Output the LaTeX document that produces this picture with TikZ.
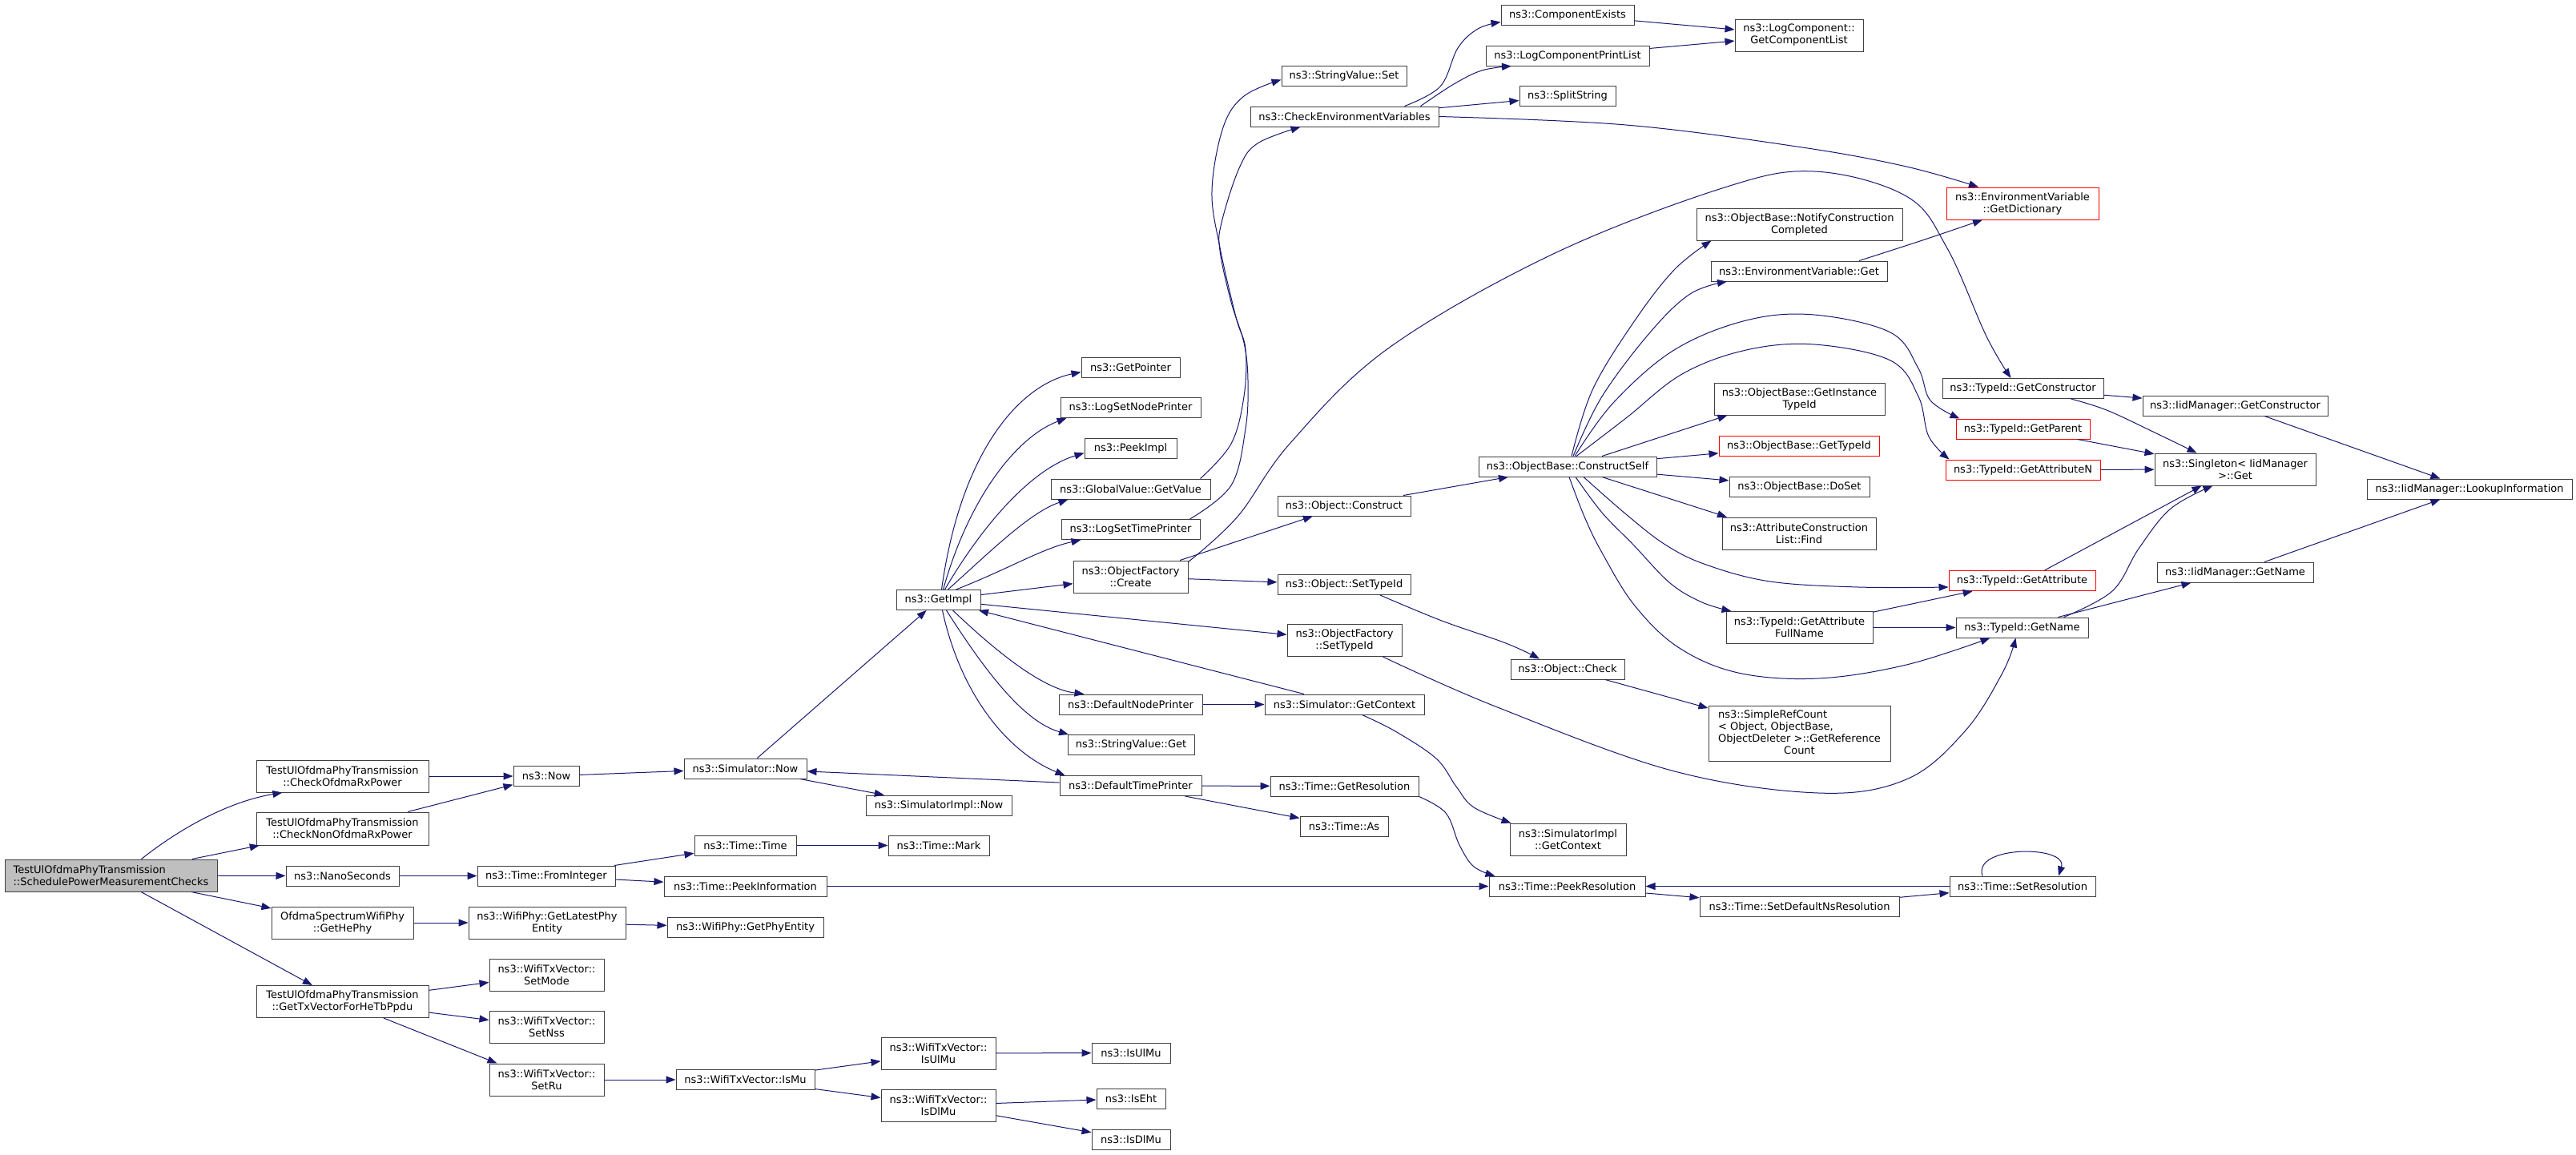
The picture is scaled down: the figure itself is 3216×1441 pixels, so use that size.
\documentclass[tikz,border=0pt]{standalone}
\usepackage{fontspec}
\setmainfont{DejaVu Sans}
\usetikzlibrary{arrows.meta}
\definecolor{edgecol}{RGB}{25,25,112}
\definecolor{mainfill}{RGB}{191,191,191}
\definecolor{boxline}{RGB}{64,64,64}
\tikzset{
  fn/.style={draw=boxline, fill=white, line width=1pt, inner sep=0pt, align=center,
     font=\fontsize{13}{15}\selectfont},
  fnred/.style={fn, draw=red},
  fnmain/.style={fn, fill=mainfill, align=left},
  edge/.style={draw=edgecol, line width=1pt, -{Triangle[length=12pt,width=9pt]}},
  sm/.style={smooth, tension=0.6},
}
\newcommand{\bx}[6]{\node[#1, minimum width=#4pt, minimum height=#5pt] (#2) at (#3) {#6};}
\begin{document}
\begin{tikzpicture}[x=1pt,y=-1pt]
\useasboundingbox[fill=white] (0,0) rectangle (3216,1441);
% ---- column 1
\bx{fnmain}{main}{138.5,1093}{265}{40}{TestUlOfdmaPhyTransmission\\::SchedulePowerMeasurementChecks}
% ---- column 2
\bx{fn}{cofdma}{427.5,969}{215}{40}{TestUlOfdmaPhyTransmission\\::CheckOfdmaRxPower}
\bx{fn}{cnon}{427.5,1034.5}{215}{41}{TestUlOfdmaPhyTransmission\\::CheckNonOfdmaRxPower}
\bx{fn}{nano}{427.5,1093.5}{141}{25}{ns3::NanoSeconds}
\bx{fn}{gethephy}{427.5,1152}{177}{40}{OfdmaSpectrumWifiPhy\\::GetHePhy}
\bx{fn}{gettx}{427.5,1250.5}{215}{40}{TestUlOfdmaPhyTransmission\\::GetTxVectorForHeTbPpdu}
% ---- column 3
\bx{fn}{now}{682,969}{82}{25}{ns3::Now}
\bx{fn}{frominteger}{682,1093.5}{172}{25}{ns3::Time::FromInteger}
\bx{fn}{latest}{683,1152}{196}{40}{ns3::WifiPhy::GetLatestPhy\\Entity}
\bx{fn}{setmode}{682.5,1217}{143}{40}{ns3::WifiTxVector::\\SetMode}
\bx{fn}{setnss}{682.5,1282.5}{143}{40}{ns3::WifiTxVector::\\SetNss}
\bx{fn}{setru}{682.5,1348}{143}{40}{ns3::WifiTxVector::\\SetRu}
% ---- column 4
\bx{fn}{simnow}{930.5,959.5}{153}{25}{ns3::Simulator::Now}
\bx{fn}{timetime}{930.5,1055.5}{127}{25}{ns3::Time::Time}
\bx{fn}{peekinfo}{930.5,1106.5}{203}{25}{ns3::Time::PeekInformation}
\bx{fn}{getphyentity}{930.5,1157.5}{195}{25}{ns3::WifiPhy::GetPhyEntity}
\bx{fn}{ismu}{930.5,1348}{173}{25}{ns3::WifiTxVector::IsMu}
% ---- column 5
\bx{fn}{getimpl}{1171.5,749}{105}{25}{ns3::GetImpl}
\bx{fn}{simimplnow}{1172,1005.5}{182}{25}{ns3::SimulatorImpl::Now}
\bx{fn}{timemark}{1172,1055.5}{126}{25}{ns3::Time::Mark}
\bx{fn}{wisulmu}{1171.5,1315}{143}{40}{ns3::WifiTxVector::\\IsUlMu}
\bx{fn}{wisdlmu}{1171.5,1380}{143}{40}{ns3::WifiTxVector::\\IsDlMu}
% ---- column 6
\bx{fn}{getpointer}{1411.5,458.5}{123}{25}{ns3::GetPointer}
\bx{fn}{logsetnode}{1411.5,509}{175}{25}{ns3::LogSetNodePrinter}
\bx{fn}{peekimpl}{1411.5,559.5}{115}{25}{ns3::PeekImpl}
\bx{fn}{globalget}{1411.5,610.5}{199}{25}{ns3::GlobalValue::GetValue}
\bx{fn}{logsettime}{1411.5,661}{173}{25}{ns3::LogSetTimePrinter}
\bx{fn}{ofcreate}{1411.5,720}{143}{40}{ns3::ObjectFactory\\::Create}
\bx{fn}{defnode}{1411.5,879.5}{179}{25}{ns3::DefaultNodePrinter}
\bx{fn}{strget}{1412,930}{158}{25}{ns3::StringValue::Get}
\bx{fn}{deftime}{1411.5,981}{177}{25}{ns3::DefaultTimePrinter}
\bx{fn}{isulmu}{1412,1314.5}{98}{25}{ns3::IsUlMu}
\bx{fn}{iseht}{1412,1371.5}{86}{25}{ns3::IsEht}
\bx{fn}{isdlmu}{1412,1422.5}{98}{25}{ns3::IsDlMu}
% ---- column 7
\bx{fn}{strset}{1678,94.5}{156}{25}{ns3::StringValue::Set}
\bx{fn}{checkenv}{1678.5,145.5}{235}{25}{ns3::CheckEnvironmentVariables}
\bx{fn}{objconstruct}{1678,631.5}{166}{25}{ns3::Object::Construct}
\bx{fn}{objsettypeid}{1678,730}{166}{25}{ns3::Object::SetTypeId}
\bx{fn}{ofsettypeid}{1678.5,799.5}{143}{40}{ns3::ObjectFactory\\::SetTypeId}
\bx{fn}{simgetctx}{1678.5,879.5}{199}{25}{ns3::Simulator::GetContext}
\bx{fn}{timegetres}{1678.5,981.5}{185}{25}{ns3::Time::GetResolution}
\bx{fn}{timeas}{1678,1032}{110}{25}{ns3::Time::As}
% ---- column 8
\bx{fn}{compexists}{1957,18.5}{166}{25}{ns3::ComponentExists}
\bx{fn}{logcompprint}{1957,69.5}{204}{25}{ns3::LogComponentPrintList}
\bx{fn}{splitstring}{1957,120}{120}{25}{ns3::SplitString}
\bx{fn}{constructself}{1957,582.5}{222}{25}{ns3::ObjectBase::ConstructSelf}
\bx{fn}{objcheck}{1957,835.5}{142}{25}{ns3::Object::Check}
\bx{fn}{simimplctx}{1957.5,1048}{145}{40}{ns3::SimulatorImpl\\::GetContext}
\bx{fn}{peekres}{1956.5,1106.5}{195}{25}{ns3::Time::PeekResolution}
% ---- column 9
\bx{fn}{getcomplist}{2246,44}{160}{40}{ns3::LogComponent::\\GetComponentList}
\bx{fn}{notify}{2246.5,280}{257}{40}{ns3::ObjectBase::NotifyConstruction\\Completed}
\bx{fn}{envget}{2246,338.5}{220}{25}{ns3::EnvironmentVariable::Get}
\bx{fn}{instancetypeid}{2246.5,498}{213}{40}{ns3::ObjectBase::GetInstance\\TypeId}
\bx{fnred}{obgettypeid}{2246,557}{200}{25}{ns3::ObjectBase::GetTypeId}
\bx{fn}{doset}{2246.5,607.5}{175}{25}{ns3::ObjectBase::DoSet}
\bx{fn}{acfind}{2246,666}{192}{40}{ns3::AttributeConstruction\\List::Find}
\bx{fn}{getattrfull}{2246.5,783.5}{183}{40}{ns3::TypeId::GetAttribute\\FullName}
\node[fn, minimum width=227pt, minimum height=69pt] (simplerefcount) at (2246.5,915.5)
  {\begin{tabular}{@{}l@{}}ns3::SimpleRefCount\\{<} Object, ObjectBase,\\ObjectDeleter {>}::GetReference\\\multicolumn{1}{@{}c@{}}{Count}\end{tabular}};
\bx{fn}{setdefns}{2246.5,1131.5}{249}{25}{ns3::Time::SetDefaultNsResolution}
% ---- column 10
\bx{fnred}{getdict}{2525,254}{190}{40}{ns3::EnvironmentVariable\\::GetDictionary}
\bx{fn}{tgetconstructor}{2525.5,485}{201}{25}{ns3::TypeId::GetConstructor}
\bx{fnred}{tgetparent}{2525.5,535.5}{167}{25}{ns3::TypeId::GetParent}
\bx{fnred}{tgetattrn}{2525.5,586.5}{193}{25}{ns3::TypeId::GetAttributeN}
\bx{fnred}{tgetattr}{2524.5,725}{183}{25}{ns3::TypeId::GetAttribute}
\bx{fn}{tgetname}{2524.5,783.5}{165}{25}{ns3::TypeId::GetName}
\bx{fn}{setres}{2525,1106.5}{182}{25}{ns3::Time::SetResolution}
% ---- column 11
\bx{fn}{iidgetconstructor}{2790.5,506.5}{231}{25}{ns3::IidManager::GetConstructor}
\bx{fn}{singleton}{2790.5,586}{201}{40}{ns3::Singleton{<} IidManager\\{>}::Get}
\bx{fn}{iidgetname}{2790.5,714.5}{195}{25}{ns3::IidManager::GetName}
% ---- column 12
\bx{fn}{lookup}{3083,610.5}{256}{25}{ns3::IidManager::LookupInformation}

% ================= edges
\draw[edge] ([xshift=38]main.north) .. controls (230,1030) and (290,1000) .. ([xshift=-75]cofdma.south);
\draw[edge] (main) -- (cnon);
\draw[edge] (main) -- (nano);
\draw[edge] (main) -- (gethephy);
\draw[edge] (main) -- (gettx);
\draw[edge] (cofdma) -- (now);
\draw[edge] (cnon) -- (now);
\draw[edge] (now) -- (simnow);
\draw[edge] (nano) -- (frominteger);
\draw[edge] (frominteger) -- (timetime);
\draw[edge] (frominteger) -- (peekinfo);
\draw[edge] (gethephy) -- (latest);
\draw[edge] (latest) -- (getphyentity);
\draw[edge] (gettx) -- (setmode);
\draw[edge] (gettx) -- (setnss);
\draw[edge] (gettx) -- ([xshift=-62]setru.north);
\draw[edge] (setru) -- (ismu);
\draw[edge] (ismu) -- (wisulmu);
\draw[edge] (ismu) -- (wisdlmu);
\draw[edge] (wisulmu) -- (isulmu);
\draw[edge] (wisdlmu) -- (iseht);
\draw[edge] (wisdlmu) -- (isdlmu);
\draw[edge] (timetime) -- (timemark);
\draw[edge] (simnow) -- (getimpl);
\draw[edge] (simnow) -- (simimplnow);
\draw[edge] (deftime) -- (simnow);
\draw[edge] (deftime) -- (timegetres);
\draw[edge] (deftime) -- (timeas);
% GetImpl fan
\draw[edge] ([xshift=4]getimpl.north) .. controls (1200,560) and (1275,480) .. ([yshift=-6]getpointer.west);
\draw[edge] ([xshift=6]getimpl.north) .. controls (1210,620) and (1270,545) .. ([xshift=-80]logsetnode.south);
\draw[edge] ([xshift=8]getimpl.north) .. controls (1230,650) and (1290,585) .. ([yshift=-6]peekimpl.west);
\draw[edge] ([xshift=12]getimpl.north) .. controls (1235,690) and (1285,640) .. ([xshift=-78]globalget.south);
\draw[edge] ([xshift=22]getimpl.north) .. controls (1260,710) and (1300,685) .. ([xshift=-62]logsettime.south);
\draw[edge] (getimpl) -- (ofcreate);
\draw[edge] (getimpl) -- (ofsettypeid);
\draw[edge] ([xshift=18]getimpl.south) .. controls (1240,810) and (1300,860) .. ([xshift=-58]defnode.north);
\draw[edge] ([xshift=10]getimpl.south) .. controls (1225,830) and (1275,900) .. ([xshift=-78]strget.north);
\draw[edge] ([xshift=5]getimpl.south) .. controls (1200,870) and (1260,940) .. ([xshift=-82]deftime.north);
\draw[edge] (simgetctx) -- (getimpl);
\draw[edge] (defnode) -- (simgetctx);
% long curves to the top
\draw[edge] plot[sm] coordinates {([xshift=-13]globalget.north east) (1537,554) (1553,495) (1555,436) (1543,396) (1523,309) (1513,238) (1527,159) (1553,120) ([yshift=-5]strset.west)};
\draw[edge] plot[sm] coordinates {([xshift=-13]logsettime.north east) (1537,606) (1555,535) (1558,475) (1553,428) (1537,377) (1523,313) (1525,278) (1547,210) (1570,179) ([xshift=-55]checkenv.south)};
\draw[edge] plot[sm] coordinates {([xshift=75]checkenv.north) (1798,108) (1820,60) (1845,36) ([yshift=4]compexists.south west)};
\draw[edge] plot[sm] coordinates {([xshift=95]checkenv.north) (1815,105) (1850,88) ([xshift=-70]logcompprint.south)};
\draw[edge] (checkenv) -- (splitstring);
\draw[edge] plot[sm] coordinates {(checkenv.east) (2030,156) (2250,184) (2380,208) ([xshift=-55]getdict.north)};
\draw[edge] (compexists) -- (getcomplist);
\draw[edge] (logcompprint) -- (getcomplist);
% ObjectFactory::Create
\draw[edge] (ofcreate) -- (objconstruct);
\draw[edge] (ofcreate) -- (objsettypeid);
\draw[edge] plot[sm] coordinates {([yshift=-2]ofcreate.north east) (1545,645) (1611,553) (1733,435) (1937,318) (2150,235) (2265,214) (2380,245) (2431,310) (2480,420) ([xshift=-15]tgetconstructor.north)};
\draw[edge] (objconstruct) -- (constructself);
% ConstructSelf fan
\draw[edge] plot[sm] coordinates {([xshift=5]constructself.north) (1988,487) (2039,403) (2090,337) ([xshift=-110]notify.south)};
\draw[edge] plot[sm] coordinates {([xshift=7]constructself.north) (2000,495) (2060,415) (2110,367) ([xshift=-90]envget.south)};
\draw[edge] plot[sm] coordinates {([xshift=9]constructself.north) (2014,503) (2090,437) (2180,400) (2265,393) (2360,415) (2395,460) (2410,500) ([xshift=5]tgetparent.north west)};
\draw[edge] plot[sm] coordinates {([xshift=11]constructself.north) (2030,522) (2100,467) (2180,437) (2265,430) (2360,450) (2395,495) (2408,545) ([xshift=5]tgetattrn.north west)};
\draw[edge] ([xshift=43]constructself.north) -- ([xshift=-90]instancetypeid.south);
\draw[edge] (constructself) -- (obgettypeid);
\draw[edge] (constructself) -- (doset);
\draw[edge] ([xshift=43]constructself.south) -- ([xshift=-90]acfind.north);
\draw[edge] plot[sm] coordinates {([xshift=10]constructself.south) (2000,640) (2039,680) (2085,728) (2125,752) ([xshift=-85]getattrfull.north)};
\draw[edge] plot[sm] coordinates {([xshift=20]constructself.south) (2030,642) (2079,680) (2130,705) (2210,726) (2320,733) ([yshift=-8]tgetattr.west)};
\draw[edge] plot[sm] coordinates {([xshift=2]constructself.south) (1978,645) (2000,690) (2040,755) (2095,808) (2170,840) (2270,847) (2380,830) ([xshift=-40]tgetname.south)};
\draw[edge] plot[sm] coordinates {([xshift=75]envget.north) (2400,300) ([xshift=-50]getdict.south)};
% TypeId
\draw[edge] (getattrfull) -- (tgetattr);
\draw[edge] (getattrfull) -- (tgetname);
\draw[edge] (tgetconstructor) -- (iidgetconstructor);
\draw[edge] plot[sm] coordinates {([xshift=60]tgetconstructor.south) (2630,512) (2690,540) ([xshift=-48]singleton.north)};
\draw[edge] (tgetparent) -- (singleton);
\draw[edge] (tgetattrn) -- (singleton);
\draw[edge] ([xshift=28]tgetattr.north) -- ([xshift=-42]singleton.south);
\draw[edge] plot[sm] coordinates {([xshift=52]tgetname.north) (2637,738) (2670,685) (2710,635) ([xshift=-28]singleton.south)};
\draw[edge] ([xshift=45]tgetname.north) -- ([xshift=-55]iidgetname.south);
\draw[edge] (iidgetconstructor) -- (lookup);
\draw[edge] (iidgetname) -- (lookup);
% Object::SetTypeId, ObjectFactory::SetTypeId
\draw[edge] plot[sm] coordinates {([xshift=45]objsettypeid.south) (1800,775) (1880,803) ([xshift=-35]objcheck.north)};
\draw[edge] (objcheck) -- (simplerefcount);
\draw[edge] plot[sm] coordinates {([xshift=48]ofsettypeid.south) (1867,882) (2087,962) (2270,990) (2380,973) (2453,913) (2500,840) ([xshift=-8]tgetname.south)};
% Simulator::GetContext
\draw[edge] plot[sm] coordinates {([xshift=22]simgetctx.south) (1742,913) (1793,947) (1818,982) (1840,1008) ([xshift=2]simimplctx.north west)};
% Time resolution
\draw[edge] plot[sm] coordinates {(timegetres.south east) (1805,1015) (1822,1055) (1840,1082) ([xshift=-90]peekres.north)};
\draw[edge] (peekinfo) -- (peekres);
\draw[edge] (peekres) -- (setdefns);
\draw[edge] (setdefns) -- (setres);
\draw[edge] (setres) -- (peekres);
\draw[edge] ([xshift=-50]setres.north) .. controls (2462,1055) and (2582,1055) .. ([xshift=45]setres.north);
\end{tikzpicture}
\end{document}
